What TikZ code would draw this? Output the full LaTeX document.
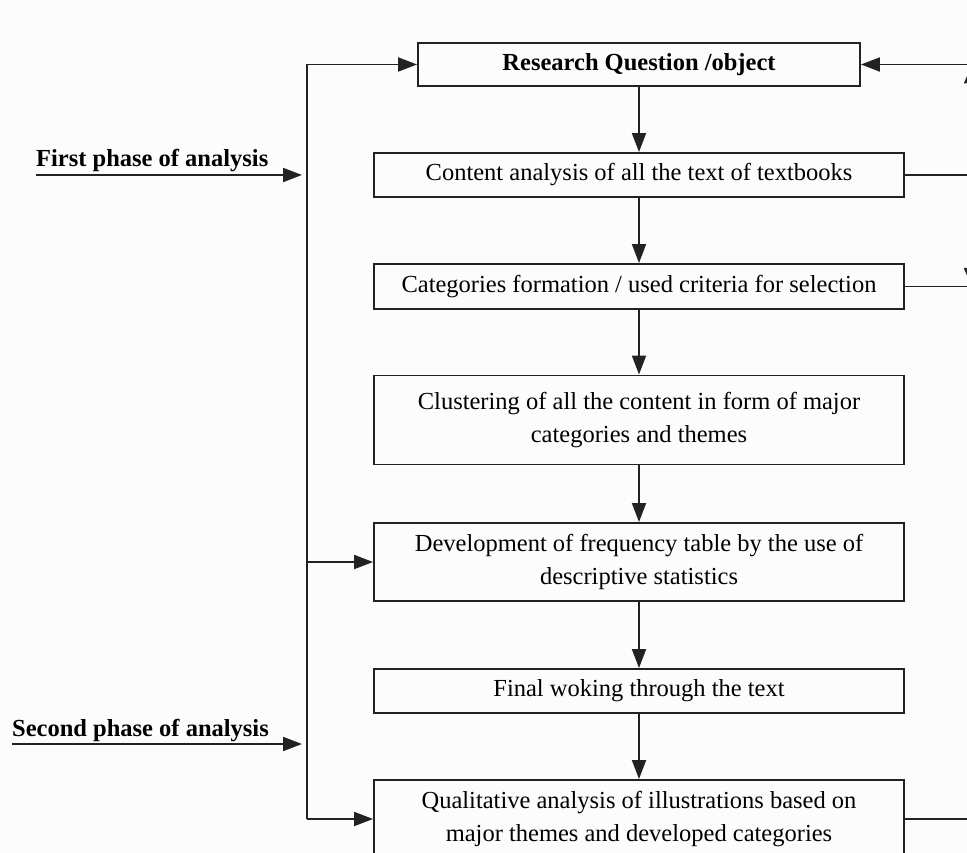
\documentclass[tikz,border=0pt]{standalone}
\usepackage{fontspec}
\setmainfont{Liberation Serif}
\usetikzlibrary{arrows.meta}
\definecolor{bgc}{HTML}{FCFCFC}
\definecolor{ln}{HTML}{222222}
\begin{document}
\begin{tikzpicture}[x=1pt,y=-1pt,
  box/.style={draw=ln,line width=1.9pt,rectangle,minimum width=530pt,align=center,inner sep=0pt,font=\fontsize{24.5}{33}\selectfont},
  conn/.style={draw=ln,line width=1.9pt},
  arr/.style={conn,-{Triangle[length=19pt,width=14pt]}},
  lab/.style={font=\fontsize{24.5}{30}\selectfont\bfseries,anchor=base west,inner sep=0pt}]
\fill[bgc] (0,0) rectangle (967,853);
\useasboundingbox (0,0) rectangle (967,853);
\node[box,minimum width=442pt,minimum height=43pt,font=\fontsize{24.5}{30}\selectfont\bfseries] (b1) at (639,64.5) {Research Question /object};
\node[box,minimum height=44pt] (b2) at (639,175) {Content analysis of all the text of textbooks};
\node[box,minimum height=45pt] (b3) at (639,286.5) {Categories formation / used criteria for selection};
\node[box,minimum height=89pt] (b4) at (639,420) {Clustering of all the content in form of major\\categories and themes};
\node[box,minimum height=78pt] (b5) at (639,562) {Development of frequency table by the use of\\descriptive statistics};
\node[box,minimum height=44pt] (b6) at (639,691) {Final woking through the text};
\node[box,minimum height=78pt] (b7) at (639,819) {Qualitative analysis of illustrations based on\\major themes and developed categories};
\draw[arr] (b1) -- (b2);
\draw[arr] (b2) -- (b3);
\draw[arr] (b3) -- (b4);
\draw[arr] (b4) -- (b5);
\draw[arr] (b5) -- (b6);
\draw[arr] (b6) -- (b7);
% left bus
\coordinate (lt) at (307,64.5);
\coordinate (lb) at (307,819);
\coordinate (l5) at (307,562);
\draw[arr] (lb) -- (lt) -- (b1.west);
\draw[arr] (l5) -- (b5.west);
\draw[arr] (lb) -- (b7.west);
% phase labels
\coordinate (p1s) at (36,175);
\coordinate (p1e) at (302,175);
\coordinate (p2s) at (12,744);
\coordinate (p2e) at (302,744);
\draw[arr] (p1s) -- (p1e);
\draw[arr] (p2s) -- (p2e);
\node[lab] (t1) at (36,167) {First phase of analysis};
\node[lab] (t2) at (12,736) {Second phase of analysis};
% right side
\coordinate (r1) at (990,64.5);
\coordinate (r2) at (990,175);
\coordinate (r3) at (990,286.5);
\coordinate (r7) at (990,819);
\draw[arr] (r1) -- (b1.east);
\draw[conn] (b2.east) -- (r2);
\draw[conn] (b3.east) -- (r3);
\draw[conn] (b7.east) -- (r7);
\coordinate (va) at (972,64.5);
\coordinate (vb) at (972,287);
\draw[conn,{Triangle[length=19pt,width=16pt]}-{Triangle[length=19pt,width=16pt]}] (va) -- (vb);
\end{tikzpicture}
\end{document}
